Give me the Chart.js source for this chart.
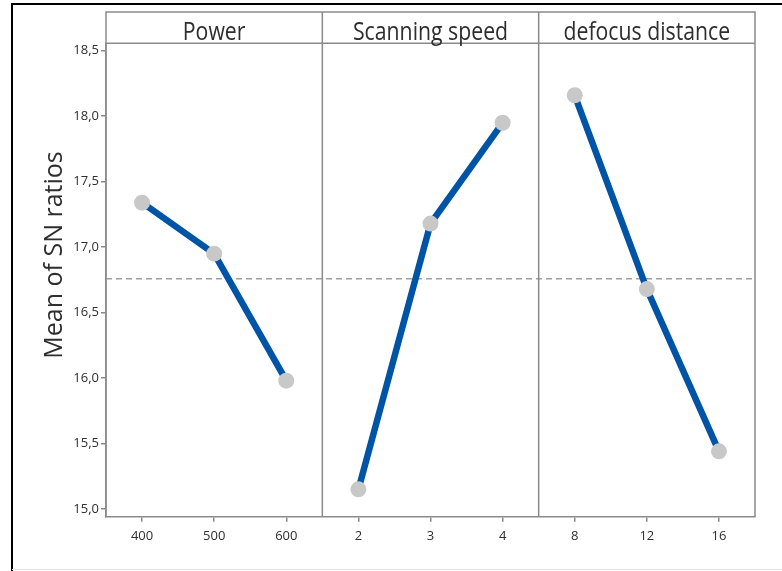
<!DOCTYPE html>
<html>
<head>
<meta charset="utf-8">
<script src="https://cdn.jsdelivr.net/npm/chart.js@4"></script>
<style>
  html, body { margin: 0; padding: 0; background: #fff; }
  canvas { display: block; }
</style>
</head>
<body>
<canvas id="main" width="782" height="571"></canvas>
<script>
// Main effects plot for SN ratios (larger is better)
const factors = ['Power', 'Scanning speed', 'defocus distance'];
const powerLevels = ['400', '500', '600'];
const speedLevels = ['2', '3', '4'];
const defocusLevels = ['8', '12', '16'];

const powerSN = [17.34, 16.95, 15.98];
const speedSN = [15.15, 17.18, 17.95];
const defocusSN = [18.16, 16.68, 15.44];

const yTicks = [15.0, 15.5, 16.0, 16.5, 17.0, 17.5, 18.0, 18.5];
const yTitle = 'Mean of SN ratios';

const levelGroups = [powerLevels, speedLevels, defocusLevels];
const snGroups = [powerSN, speedSN, defocusSN];
const labels = levelGroups.flat();
const allSN = snGroups.flat();
const grandMean = allSN.reduce((a, b) => a + b, 0) / allSN.length;

const LINE_BLUE = '#0054A6';
const MARKER_GREY = '#C8C8C8';
const FRAME_GREY = '#8a8a8a';
const TEXT = '#2e2e2e';

// one dataset per factor, padded with gaps outside its own panel
let offset = 0;
const datasets = snGroups.map((vals, i) => {
  const data = labels.map(() => null);
  vals.forEach((v, j) => { data[offset + j] = v; });
  offset += vals.length;
  return {
    label: factors[i],
    data,
    borderColor: LINE_BLUE,
    borderWidth: 6.5,
    pointRadius: 8,
    pointHoverRadius: 8,
    pointBackgroundColor: MARKER_GREY,
    pointBorderWidth: 0,
    spanGaps: false,
    tension: 0
  };
});

const panelPlugin = {
  id: 'panels',
  beforeDatasetsDraw(chart) {
    const { ctx, chartArea: a, scales: { y } } = chart;
    const yy = y.getPixelForValue(grandMean);
    ctx.save();
    ctx.strokeStyle = '#a0a0a0';
    ctx.lineWidth = 1.5;
    ctx.setLineDash([6, 4]);
    ctx.beginPath();
    ctx.moveTo(a.left, yy);
    ctx.lineTo(a.right, yy);
    ctx.stroke();
    ctx.restore();
  },
  afterDraw(chart) {
    const { ctx, chartArea: a, scales: { x } } = chart;
    const headTop = 12;
    ctx.save();
    ctx.strokeStyle = FRAME_GREY;
    ctx.lineWidth = 1.5;
    // header strip and right border
    ctx.beginPath();
    ctx.moveTo(a.left, a.bottom);
    ctx.lineTo(a.left, headTop);
    ctx.lineTo(a.right, headTop);
    ctx.lineTo(a.right, a.bottom);
    ctx.moveTo(a.left, a.top);
    ctx.lineTo(a.right, a.top);
    ctx.stroke();
    // panel dividers and panel titles
    let start = 0;
    const edges = [a.left];
    levelGroups.forEach((g, i) => {
      start += g.length;
      if (i < levelGroups.length - 1) {
        const xd = (x.getPixelForValue(start - 1) + x.getPixelForValue(start)) / 2;
        edges.push(xd);
        ctx.beginPath();
        ctx.moveTo(xd, headTop);
        ctx.lineTo(xd, a.bottom);
        ctx.stroke();
      }
    });
    edges.push(a.right);
    ctx.fillStyle = TEXT;
    ctx.font = '25px "Open Sans"';
    ctx.textAlign = 'center';
    ctx.textBaseline = 'alphabetic';
    factors.forEach((f, i) => {
      const cx = (edges[i] + edges[i + 1]) / 2;
      ctx.save();
      ctx.translate(cx, a.top - 3);
      ctx.scale(0.85, 1);
      ctx.fillText(f, 0, 0);
      ctx.restore();
    });
    // y axis title
    ctx.save();
    ctx.translate(55, 255);
    ctx.rotate(-Math.PI / 2);
    ctx.font = '25px "Open Sans"';
    ctx.textBaseline = 'middle';
    ctx.fillText(yTitle, 0, 0);
    ctx.restore();
    // outer frame
    ctx.strokeStyle = '#000';
    ctx.lineWidth = 2;
    ctx.beginPath();
    ctx.moveTo(782, 4);
    ctx.lineTo(12, 4);
    ctx.lineTo(12, 571);
    ctx.stroke();
    ctx.strokeStyle = '#e2e2e2';
    ctx.lineWidth = 1;
    ctx.beginPath();
    ctx.moveTo(12, 569.5);
    ctx.lineTo(782, 569.5);
    ctx.stroke();
    ctx.restore();
  }
};

new Chart(document.getElementById('main'), {
  type: 'line',
  data: { labels, datasets },
  plugins: [panelPlugin],
  options: {
    responsive: false,
    animation: false,
    devicePixelRatio: 1,
    layout: { padding: { left: 46, right: 27, top: 43.3, bottom: 0 } },
    plugins: { legend: { display: false }, tooltip: { enabled: false } },
    scales: {
      x: {
        type: 'category',
        offset: true,
        afterFit: s => { s.height = 54.3; },
        grid: { display: true, drawOnChartArea: false, drawTicks: true, tickLength: 5, offset: false, color: FRAME_GREY, lineWidth: 1.5 },
        border: { display: true, color: FRAME_GREY, width: 1.5 },
        ticks: { color: TEXT, font: { family: 'Open Sans', size: 13 }, padding: 7, maxRotation: 0, autoSkip: false }
      },
      y: {
        min: 14.941,
        max: 18.557,
        afterFit: s => { s.width = 60; },
        afterBuildTicks: s => { s.ticks = yTicks.map(v => ({ value: v })); },
        grid: { display: true, drawOnChartArea: false, drawTicks: true, tickLength: 5, color: FRAME_GREY, lineWidth: 1.5 },
        border: { display: true, color: FRAME_GREY, width: 1.5 },
        ticks: {
          color: TEXT,
          font: { family: 'Open Sans', size: 13 },
          padding: 2,
          callback: v => Number(v).toFixed(1).replace('.', ',')
        }
      }
    }
  }
});
</script>
</body>
</html>
